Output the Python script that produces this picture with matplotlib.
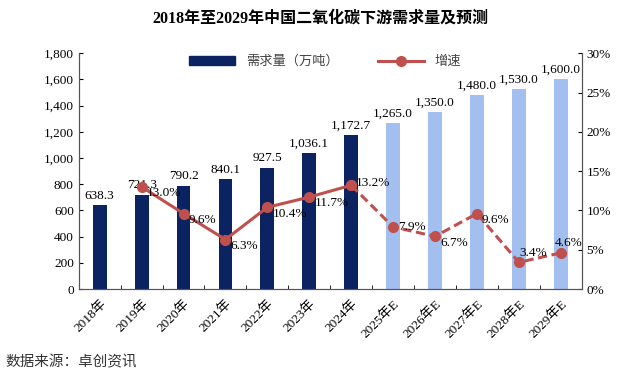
import matplotlib.pyplot as plt
import numpy as np
from matplotlib.lines import Line2D
from matplotlib.patches import Patch

plt.rcParams['font.family'] = ['Liberation Serif', 'Noto Sans CJK SC']

years = ['2018年', '2019年', '2020年', '2021年', '2022年', '2023年', '2024年',
         '2025年E', '2026年E', '2027年E', '2028年E', '2029年E']
demand = [638.3, 721.3, 790.2, 840.1, 927.5, 1036.1, 1172.7,
          1265.0, 1350.0, 1480.0, 1530.0, 1600.0]
growth = [None, 13.0, 9.6, 6.3, 10.4, 11.7, 13.2, 7.9, 6.7, 9.6, 3.4, 4.6]
n_actual = 7

navy = '#0c2361'
light = '#a3bff0'
red = '#c0504d'

fig = plt.figure(figsize=(6.4, 3.72), dpi=100)
ax = fig.add_axes([0.123, 0.223, 0.786, 0.634])
ax2 = ax.twinx()

x = np.arange(len(years))
colors = [navy if i < n_actual else light for i in range(len(years))]
ax.bar(x, demand, width=0.33, color=colors, zorder=2)
for xi, v in zip(x, demand):
    ax.text(xi, v + 25, f'{v:,.1f}', ha='center', va='bottom', fontsize=9.5)

ax.set_ylim(0, 1800)
ax.set_yticks(range(0, 1801, 200))
ax.set_yticklabels([f'{v:,}' for v in range(0, 1801, 200)], fontsize=9.5)
ax.set_xlim(-0.5, len(years) - 0.5)
ax.set_xticks(x)
ax.set_xticklabels(years, rotation=45, ha='right', rotation_mode='anchor', fontsize=9.5)
ax.tick_params(axis='x', length=0, pad=6)
ax.set_xticks(np.arange(-0.5, len(years), 1), minor=True)
ax.tick_params(axis='x', which='minor', length=3, direction='in')
ax.tick_params(axis='y', length=3, direction='in')

gx_solid = x[1:n_actual]
gy_solid = growth[1:n_actual]
gx_dash = x[n_actual - 1:]
gy_dash = growth[n_actual - 1:]
ax2.plot(gx_solid, gy_solid, color=red, lw=2.2, marker='o', ms=7, zorder=3)
ax2.plot(gx_dash, gy_dash, color=red, lw=2.2, ls=(0, (3, 1.5)), marker='o', ms=7, zorder=3)
# label offsets (x, y) per point, in data units
offsets = {6: (0.12, 0.3), 7: (0.12, 0.0), 10: (0.02, 1.2), 11: (-0.15, 1.3)}
for i in range(1, len(years)):
    dx, dy = offsets.get(i, (0.12, -0.8))
    ax2.text(x[i] + dx, growth[i] + dy, f'{growth[i]:.1f}%', ha='left',
             va='center', fontsize=9.5)
ax2.set_ylim(0, 30)
ax2.set_yticks(range(0, 31, 5))
ax2.set_yticklabels([f'{v}%' for v in range(0, 31, 5)], fontsize=9.5)
ax2.tick_params(axis='y', length=3, direction='in')

for a in (ax, ax2):
    a.spines['top'].set_visible(False)
    a.spines['left'].set_color('#555555')
    a.spines['right'].set_color('#555555')
    a.spines['bottom'].set_color('#555555')

handles = [Patch(color=navy), Line2D([], [], color=red, lw=2.2, marker='o', ms=7)]
ax.legend(handles, ['需求量（万吨）', '增速'], loc='upper center',
          bbox_to_anchor=(0.49, 1.04), ncol=2, frameon=False, fontsize=9.5,
          handlelength=3.5, columnspacing=3, labelcolor='#444444')

fig.text(0.5, 0.95, '2018年至2029年中国二氧化碳下游需求量及预测', ha='center',
         va='center', fontsize=11.5, fontweight='bold')
fig.text(0.008, 0.027, '数据来源：卓创资讯', ha='left', va='center', fontsize=10.5,
         color='#333333')

fig.savefig('out.png', dpi=100)
